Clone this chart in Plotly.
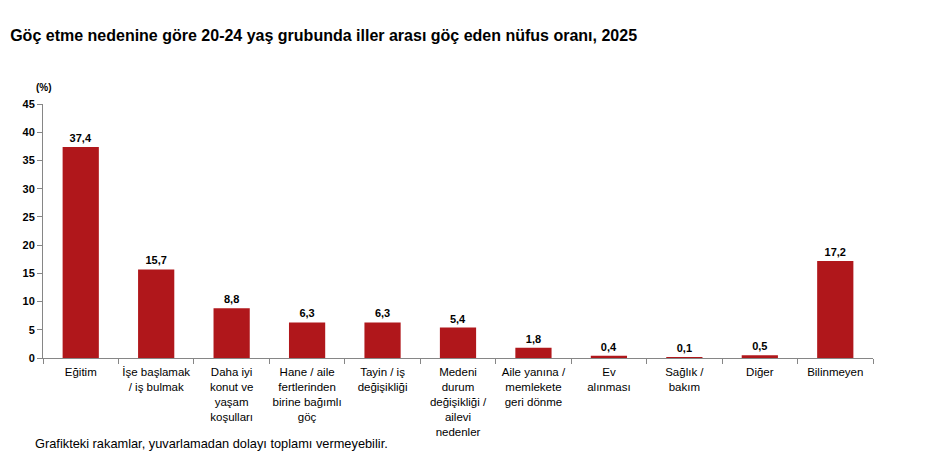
import plotly.graph_objects as go

categories = ["Eğitim", "İşe başlamak<br>/ iş bulmak", "Daha iyi<br>konut ve<br>yaşam<br>koşulları",
              "Hane / aile<br>fertlerinden<br>birine bağımlı<br>göç", "Tayin / iş<br>değişikliği",
              "Medeni<br>durum<br>değişikliği /<br>ailevi<br>nedenler", "Aile yanına /<br>memlekete<br>geri dönme",
              "Ev<br>alınması", "Sağlık /<br>bakım", "Diğer", "Bilinmeyen"]
values = [37.4, 15.7, 8.8, 6.3, 6.3, 5.4, 1.8, 0.4, 0.1, 0.5, 17.2]
y_ticks = [0, 5, 10, 15, 20, 25, 30, 35, 40, 45]

labels = [f"<b>{v:.1f}</b>".replace(".", ",") for v in values]

FONT = "Liberation Sans, Arial, sans-serif"

fig = go.Figure(go.Bar(
    x=categories, y=values, text=labels, textposition="outside",
    textfont=dict(family=FONT, size=11, color="#000000"),
    marker=dict(color="#B0171B", line=dict(width=0)),
    width=0.48, cliponaxis=False,
))

fig.update_layout(
    width=925, height=472,
    margin=dict(l=43, r=52, t=104, b=114),
    paper_bgcolor="white", plot_bgcolor="white",
    showlegend=False,
    font=dict(family=FONT, size=11, color="#000000"),
    title=dict(text="<b>Göç etme nedenine göre 20-24 yaş grubunda iller arası göç eden nüfus oranı, 2025</b>",
               x=0.011, xanchor="left", y=1 - 35 / 472, yanchor="middle",
               font=dict(family=FONT, size=16, color="#000000")),
    annotations=[
        dict(text="<b>(%)</b>", xref="paper", yref="paper", x=(44 - 43) / 830, y=(358 - 88) / 254,
             xanchor="center", yanchor="middle", showarrow=False,
             font=dict(family=FONT, size=10, color="#000000")),
        dict(text="Grafikteki rakamlar, yuvarlamadan dolayı toplamı vermeyebilir.",
             xref="paper", yref="paper", x=(33 - 43) / 830, y=(358 - 443) / 254,
             xanchor="left", yanchor="middle", showarrow=False,
             font=dict(family=FONT, size=12.8, color="#000000")),
    ],
)

fig.update_xaxes(
    type="category", range=[-0.5, 10.5], showline=True, linecolor="#868686", linewidth=1,
    ticks="outside", tickson="boundaries", ticklen=5, tickcolor="#868686",
    ticklabelstandoff=3,
    tickfont=dict(family=FONT, size=11.5, color="#000000"), showgrid=False, tickangle=0,
)
fig.update_yaxes(
    range=[0, 45], tickvals=y_ticks, ticktext=[f"<b>{t}</b>" for t in y_ticks],
    showline=True, linecolor="#868686", linewidth=1,
    ticks="outside", ticklen=5, tickcolor="#868686", showgrid=False, zeroline=False,
    tickfont=dict(family=FONT, size=11, color="#000000"),
)

fig.write_html("out.html")
